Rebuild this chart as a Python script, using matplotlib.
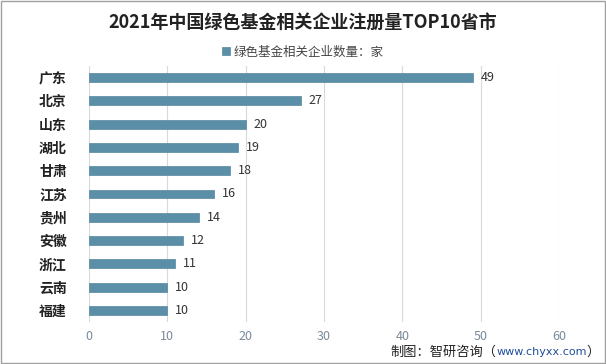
import matplotlib.pyplot as plt
from matplotlib.patches import Rectangle

plt.rcParams['font.family'] = ['Noto Sans CJK SC', 'DejaVu Sans']

provinces = ['广东', '北京', '山东', '湖北', '甘肃', '江苏', '贵州', '安徽', '浙江', '云南', '福建']
counts = [49, 27, 20, 19, 18, 16, 14, 12, 11, 10, 10]
xticks = [0, 10, 20, 30, 40, 50, 60]

fig = plt.figure(figsize=(6.06, 3.64), dpi=100)
ax = fig.add_axes([89 / 606, 1 - 322 / 364, (559 - 89) / 606, (322 - 66) / 364])

pos = list(range(len(provinces)))
ax.barh(pos, counts, height=0.38, color='#5b8fa8', edgecolor='#55879f',
        linewidth=0.5, label='绿色基金相关企业数量：家', zorder=3)
for y, v in zip(pos, counts):
    ax.text(v + 1, y, str(v), va='center', ha='left', fontsize=9, color='#333333')

ax.set_xlim(0, 60)
ax.set_ylim(len(provinces) - 0.5, -0.5)
ax.set_xticks(xticks)
ax.set_yticks(pos)
ax.set_yticklabels(provinces, fontsize=10, fontweight='bold', color='#222222')
ax.tick_params(axis='x', labelsize=9, labelcolor='#7a8a9a', length=0, pad=6)
ax.tick_params(axis='y', length=0, pad=16)
ax.grid(axis='x', color='#d9d9d9', linewidth=0.8, zorder=0)
for s in ax.spines.values():
    s.set_visible(False)

fig.text(0.5, 1 - 22 / 364, '2021年中国绿色基金相关企业注册量TOP10省市', ha='center', va='center',
         fontsize=13, fontweight='bold', color='#222222')
fig.legend(loc='center', bbox_to_anchor=(0.5, 1 - 52 / 364), frameon=False, fontsize=9,
           handlelength=0.6, handleheight=0.6, handletextpad=0.3, labelcolor='#444444')

# source line, chained right to left
paren = fig.text(0.99, 1 - 352 / 364, '）', ha='right', va='center', fontsize=9.5, color='#222222')
url = ax.annotate('www.chyxx.com', xy=(0, 0.5), xycoords=paren, ha='right', va='center',
                  fontsize=8, color='#1f4e9a', family='DejaVu Sans', annotation_clip=False)
ax.annotate('制图：智研咨询（', xy=(0, 0.5), xycoords=url, ha='right', va='center',
            fontsize=9.5, color='#222222', annotation_clip=False)

fig.patches.append(Rectangle((0.001, 0.002), 0.997, 0.995, transform=fig.transFigure,
                             fill=False, edgecolor='#a0a0a0', linewidth=1))

fig.savefig('out.png', dpi=100)
